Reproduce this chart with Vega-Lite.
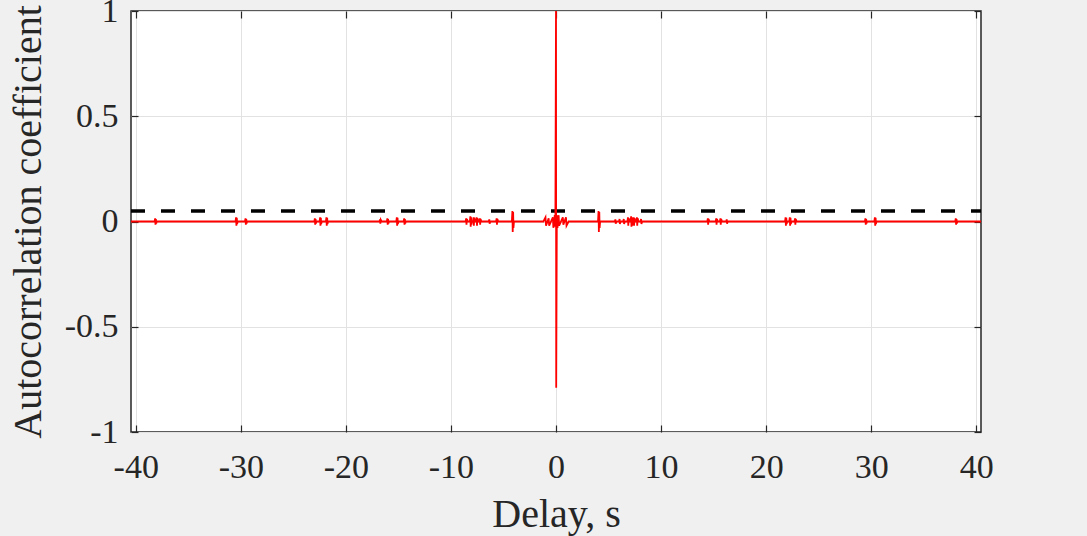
{
  "$schema": "https://vega.github.io/schema/vega-lite/v6.json",
  "width": 850,
  "height": 421,
  "autosize": {"type": "none"},
  "padding": {"left": 131, "top": 11, "right": 106, "bottom": 104},
  "background": "#f0f0f0",
  "config": {
    "view": {"fill": "white", "stroke": "#262626", "strokeWidth": 1.5},
    "font": "Liberation Serif"
  },
  "datasets": {
    "threshold": [
      {"lag": -40.45, "r": 0.05},
      {"lag": 40.45, "r": 0.05}
    ],
    "acf": [
      {"lag": -40.45, "r": 0},
      {"lag": -38.2, "r": 0}, {"lag": -38.15, "r": 0.015}, {"lag": -38.12, "r": -0.015}, {"lag": -38.08, "r": 0.012}, {"lag": -38.05, "r": -0.01}, {"lag": -38.0, "r": 0},
      {"lag": -30.5, "r": 0}, {"lag": -30.45, "r": 0.02}, {"lag": -30.42, "r": -0.02}, {"lag": -30.38, "r": 0.018}, {"lag": -30.35, "r": -0.012}, {"lag": -30.3, "r": 0},
      {"lag": -29.6, "r": 0}, {"lag": -29.55, "r": 0.015}, {"lag": -29.52, "r": -0.015}, {"lag": -29.48, "r": 0.012}, {"lag": -29.45, "r": -0.01}, {"lag": -29.4, "r": 0},
      {"lag": -23.0, "r": 0}, {"lag": -22.95, "r": 0.015}, {"lag": -22.92, "r": -0.015}, {"lag": -22.88, "r": 0.012}, {"lag": -22.85, "r": -0.01}, {"lag": -22.8, "r": 0},
      {"lag": -22.5, "r": 0}, {"lag": -22.45, "r": 0.02}, {"lag": -22.42, "r": -0.02}, {"lag": -22.38, "r": 0.018}, {"lag": -22.35, "r": -0.012}, {"lag": -22.3, "r": 0},
      {"lag": -21.9, "r": 0}, {"lag": -21.85, "r": 0.02}, {"lag": -21.82, "r": -0.02}, {"lag": -21.78, "r": 0.018}, {"lag": -21.75, "r": -0.012}, {"lag": -21.7, "r": 0},
      {"lag": -16.8, "r": 0}, {"lag": -16.75, "r": 0.01}, {"lag": -16.72, "r": -0.01}, {"lag": -16.68, "r": 0.008}, {"lag": -16.6, "r": 0},
      {"lag": -16.1, "r": 0}, {"lag": -16.05, "r": 0.015}, {"lag": -16.02, "r": -0.015}, {"lag": -15.98, "r": 0.012}, {"lag": -15.95, "r": -0.01}, {"lag": -15.9, "r": 0},
      {"lag": -15.2, "r": 0}, {"lag": -15.15, "r": 0.02}, {"lag": -15.12, "r": -0.02}, {"lag": -15.08, "r": 0.018}, {"lag": -15.05, "r": -0.012}, {"lag": -15.0, "r": 0},
      {"lag": -14.5, "r": 0}, {"lag": -14.45, "r": 0.015}, {"lag": -14.42, "r": -0.015}, {"lag": -14.38, "r": 0.012}, {"lag": -14.35, "r": -0.01}, {"lag": -14.3, "r": 0},
      {"lag": -8.6, "r": 0}, {"lag": -8.55, "r": 0.015}, {"lag": -8.52, "r": -0.015}, {"lag": -8.48, "r": 0.012}, {"lag": -8.4, "r": 0},
      {"lag": -8.2, "r": 0}, {"lag": -8.15, "r": 0.025}, {"lag": -8.12, "r": -0.025}, {"lag": -8.08, "r": 0.02}, {"lag": -8.05, "r": -0.015}, {"lag": -8.0, "r": 0},
      {"lag": -7.9, "r": 0}, {"lag": -7.85, "r": 0.02}, {"lag": -7.82, "r": -0.02}, {"lag": -7.78, "r": 0.018}, {"lag": -7.7, "r": 0},
      {"lag": -7.6, "r": 0}, {"lag": -7.55, "r": 0.02}, {"lag": -7.52, "r": -0.02}, {"lag": -7.48, "r": 0.015}, {"lag": -7.4, "r": 0},
      {"lag": -7.3, "r": 0}, {"lag": -7.25, "r": 0.015}, {"lag": -7.22, "r": -0.015}, {"lag": -7.18, "r": 0.012}, {"lag": -7.1, "r": 0},
      {"lag": -6.4, "r": 0}, {"lag": -6.35, "r": 0.01}, {"lag": -6.32, "r": -0.01}, {"lag": -6.25, "r": 0},
      {"lag": -5.7, "r": 0}, {"lag": -5.65, "r": 0.015}, {"lag": -5.62, "r": -0.015}, {"lag": -5.58, "r": 0.012}, {"lag": -5.5, "r": 0},
      {"lag": -4.2, "r": 0}, {"lag": -4.15, "r": 0.05}, {"lag": -4.12, "r": -0.05}, {"lag": -4.08, "r": 0.045}, {"lag": -4.05, "r": -0.03}, {"lag": -4.0, "r": 0},
      {"lag": -1.2, "r": 0}, {"lag": -1.0, "r": 0.02}, {"lag": -0.95, "r": -0.02}, {"lag": -0.7, "r": 0.015}, {"lag": -0.65, "r": -0.02},
      {"lag": -0.3, "r": 0.02}, {"lag": -0.25, "r": -0.03}, {"lag": -0.12, "r": 0.03}, {"lag": -0.06, "r": -0.025},
      {"lag": 0.0, "r": 1.0}, {"lag": 0.02, "r": -0.79},
      {"lag": 0.08, "r": 0.03}, {"lag": 0.14, "r": -0.03}, {"lag": 0.25, "r": 0.03}, {"lag": 0.3, "r": -0.02},
      {"lag": 0.65, "r": 0.02}, {"lag": 0.7, "r": -0.015}, {"lag": 0.95, "r": 0.02}, {"lag": 1.0, "r": -0.02}, {"lag": 1.2, "r": 0},
      {"lag": 4.0, "r": 0}, {"lag": 4.05, "r": 0.05}, {"lag": 4.08, "r": -0.05}, {"lag": 4.12, "r": 0.045}, {"lag": 4.15, "r": -0.03}, {"lag": 4.2, "r": 0},
      {"lag": 5.6, "r": 0}, {"lag": 5.65, "r": 0.01}, {"lag": 5.68, "r": -0.01}, {"lag": 5.75, "r": 0},
      {"lag": 6.0, "r": 0}, {"lag": 6.05, "r": 0.012}, {"lag": 6.08, "r": -0.012}, {"lag": 6.15, "r": 0},
      {"lag": 6.4, "r": 0}, {"lag": 6.45, "r": 0.012}, {"lag": 6.48, "r": -0.012}, {"lag": 6.55, "r": 0},
      {"lag": 6.8, "r": 0}, {"lag": 6.85, "r": 0.02}, {"lag": 6.88, "r": -0.02}, {"lag": 6.92, "r": 0.015}, {"lag": 7.0, "r": 0},
      {"lag": 7.1, "r": 0}, {"lag": 7.15, "r": 0.025}, {"lag": 7.18, "r": -0.025}, {"lag": 7.22, "r": 0.02}, {"lag": 7.25, "r": -0.02}, {"lag": 7.3, "r": 0},
      {"lag": 7.35, "r": 0}, {"lag": 7.4, "r": 0.02}, {"lag": 7.43, "r": -0.02}, {"lag": 7.47, "r": 0.015}, {"lag": 7.55, "r": 0},
      {"lag": 7.65, "r": 0}, {"lag": 7.7, "r": 0.02}, {"lag": 7.73, "r": -0.02}, {"lag": 7.77, "r": 0.015}, {"lag": 7.85, "r": 0},
      {"lag": 8.05, "r": 0}, {"lag": 8.1, "r": 0.012}, {"lag": 8.13, "r": -0.012}, {"lag": 8.2, "r": 0},
      {"lag": 14.4, "r": 0}, {"lag": 14.45, "r": 0.015}, {"lag": 14.48, "r": -0.015}, {"lag": 14.52, "r": 0.012}, {"lag": 14.6, "r": 0},
      {"lag": 15.2, "r": 0}, {"lag": 15.25, "r": 0.015}, {"lag": 15.28, "r": -0.015}, {"lag": 15.32, "r": 0.012}, {"lag": 15.4, "r": 0},
      {"lag": 15.6, "r": 0}, {"lag": 15.65, "r": 0.015}, {"lag": 15.68, "r": -0.015}, {"lag": 15.72, "r": 0.012}, {"lag": 15.8, "r": 0},
      {"lag": 16.2, "r": 0}, {"lag": 16.25, "r": 0.01}, {"lag": 16.28, "r": -0.01}, {"lag": 16.35, "r": 0},
      {"lag": 21.8, "r": 0}, {"lag": 21.85, "r": 0.02}, {"lag": 21.88, "r": -0.02}, {"lag": 21.92, "r": 0.018}, {"lag": 21.95, "r": -0.012}, {"lag": 22.0, "r": 0},
      {"lag": 22.2, "r": 0}, {"lag": 22.25, "r": 0.02}, {"lag": 22.28, "r": -0.02}, {"lag": 22.32, "r": 0.018}, {"lag": 22.35, "r": -0.012}, {"lag": 22.4, "r": 0},
      {"lag": 22.7, "r": 0}, {"lag": 22.75, "r": 0.015}, {"lag": 22.78, "r": -0.015}, {"lag": 22.82, "r": 0.012}, {"lag": 22.9, "r": 0},
      {"lag": 29.4, "r": 0}, {"lag": 29.45, "r": 0.015}, {"lag": 29.48, "r": -0.015}, {"lag": 29.52, "r": 0.012}, {"lag": 29.55, "r": -0.01}, {"lag": 29.6, "r": 0},
      {"lag": 30.3, "r": 0}, {"lag": 30.35, "r": 0.02}, {"lag": 30.38, "r": -0.02}, {"lag": 30.42, "r": 0.018}, {"lag": 30.45, "r": -0.012}, {"lag": 30.5, "r": 0},
      {"lag": 38.0, "r": 0}, {"lag": 38.05, "r": 0.015}, {"lag": 38.08, "r": -0.015}, {"lag": 38.12, "r": 0.012}, {"lag": 38.15, "r": -0.01}, {"lag": 38.2, "r": 0},
      {"lag": 40.45, "r": 0}
    ]
  },
  "layer": [
    {
      "data": {"name": "threshold"},
      "mark": {"type": "line", "color": "black", "strokeWidth": 3.5, "strokeDash": [14, 16]},
      "encoding": {
        "x": {
          "field": "lag", "type": "quantitative",
          "scale": {"domain": [-40.45, 40.45], "nice": false, "zero": false},
          "axis": {"orient": "top", "values": [-40, -30, -20, -10, 0, 10, 20, 30, 40], "labels": false, "grid": false, "domain": false, "ticks": true, "tickSize": -7, "tickColor": "#262626", "tickWidth": 1.2, "title": null}
        },
        "y": {
          "field": "r", "type": "quantitative",
          "scale": {"domain": [-1, 1], "nice": false, "zero": false},
          "axis": {"orient": "right", "values": [-1, -0.5, 0, 0.5, 1], "labels": false, "grid": false, "domain": false, "ticks": true, "tickSize": -7, "tickColor": "#262626", "tickWidth": 1.2, "title": null}
        }
      }
    },
    {
      "data": {"name": "acf"},
      "mark": {"type": "line", "color": "#ff0000", "strokeWidth": 1.8},
      "encoding": {
        "x": {
          "field": "lag", "type": "quantitative",
          "scale": {"domain": [-40.45, 40.45], "nice": false, "zero": false},
          "axis": {
            "orient": "bottom",
            "values": [-40, -30, -20, -10, 0, 10, 20, 30, 40],
            "labelExpr": "datum.value < 0 ? '-' + format(-datum.value, '~g') : format(datum.value, '~g')",
            "labelFont": "Liberation Serif", "labelFontSize": 34, "labelColor": "#262626",
            "labelPadding": 25, "labelFlush": false,
            "grid": true, "gridColor": "#e2e2e2", "gridWidth": 1,
            "domain": false, "ticks": true, "tickSize": -7, "tickColor": "#262626", "tickWidth": 1.2,
            "title": "Delay, s", "titleFont": "Liberation Serif", "titleFontSize": 40, "titleFontWeight": "normal", "titleColor": "#262626", "titlePadding": 10
          }
        },
        "y": {
          "field": "r", "type": "quantitative",
          "scale": {"domain": [-1, 1], "nice": false, "zero": false},
          "axis": {
            "orient": "left",
            "values": [-1, -0.5, 0, 0.5, 1],
            "labelExpr": "datum.value < 0 ? '-' + format(-datum.value, '~g') : format(datum.value, '~g')",
            "labelFont": "Liberation Serif", "labelFontSize": 34, "labelColor": "#262626",
            "labelPadding": 20, "labelFlush": false,
            "grid": true, "gridColor": "#e2e2e2", "gridWidth": 1,
            "domain": false, "ticks": true, "tickSize": -7, "tickColor": "#262626", "tickWidth": 1.2,
            "title": "Autocorrelation coefficient", "titleFont": "Liberation Serif", "titleFontSize": 40, "titleFontWeight": "normal", "titleColor": "#262626", "titlePadding": 16
          }
        }
      }
    }
  ],
  "resolve": {"axis": {"x": "independent", "y": "independent"}}
}
